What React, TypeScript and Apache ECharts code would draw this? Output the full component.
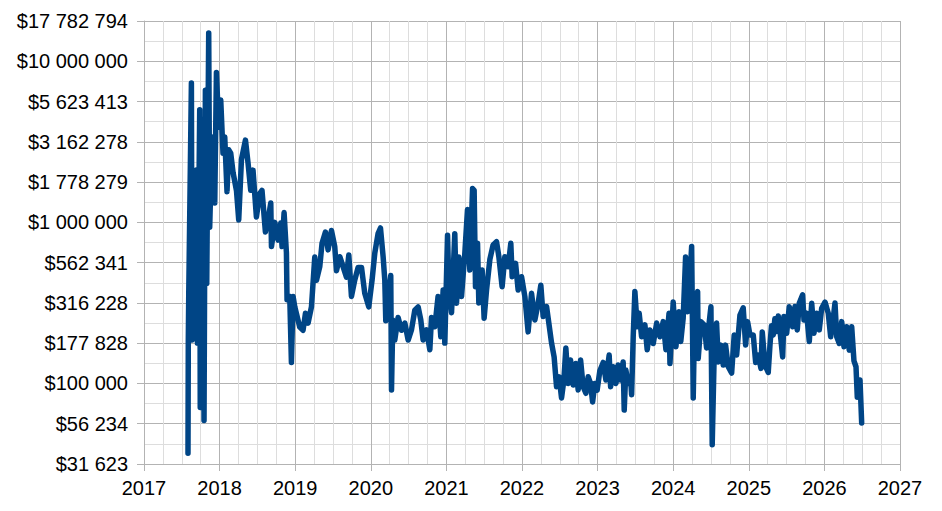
import React, { useEffect, useRef } from "react";
import * as echarts from "echarts";

// Decimal year of each reading
const years: number[] = [
  2017.582, 2017.586, 2017.592, 2017.627, 2017.635, 2017.662, 2017.693, 2017.707, 2017.737, 2017.744,
  2017.764, 2017.781, 2017.794, 2017.812, 2017.83, 2017.856, 2017.869, 2017.9, 2017.936, 2017.958,
  2017.988, 2018.015, 2018.045, 2018.068, 2018.098, 2018.121, 2018.147, 2018.178, 2018.223, 2018.253,
  2018.289, 2018.342, 2018.376, 2018.412, 2018.442, 2018.487, 2018.531, 2018.561, 2018.606, 2018.641,
  2018.677, 2018.686, 2018.73, 2018.773, 2018.809, 2018.826, 2018.853, 2018.884, 2018.892, 2018.928,
  2018.95, 2018.972, 2018.994, 2019.06, 2019.104, 2019.136, 2019.17, 2019.215, 2019.259, 2019.281,
  2019.325, 2019.355, 2019.4, 2019.435, 2019.48, 2019.523, 2019.546, 2019.59, 2019.633, 2019.678,
  2019.709, 2019.744, 2019.788, 2019.832, 2019.877, 2019.92, 2019.973, 2020.017, 2020.053, 2020.096,
  2020.128, 2020.163, 2020.185, 2020.198, 2020.229, 2020.264, 2020.274, 2020.291, 2020.317, 2020.361,
  2020.406, 2020.45, 2020.494, 2020.538, 2020.582, 2020.626, 2020.661, 2020.692, 2020.737, 2020.781,
  2020.803, 2020.847, 2020.89, 2020.926, 2020.957, 2020.979, 2021.015, 2021.032, 2021.068, 2021.111,
  2021.134, 2021.164, 2021.2, 2021.244, 2021.279, 2021.31, 2021.346, 2021.367, 2021.385, 2021.412,
  2021.429, 2021.473, 2021.499, 2021.531, 2021.575, 2021.618, 2021.663, 2021.694, 2021.737, 2021.773,
  2021.817, 2021.852, 2021.87, 2021.915, 2021.949, 2021.994, 2022.038, 2022.081, 2022.126, 2022.17,
  2022.214, 2022.249, 2022.28, 2022.325, 2022.355, 2022.391, 2022.425, 2022.457, 2022.491, 2022.523,
  2022.554, 2022.58, 2022.611, 2022.642, 2022.677, 2022.713, 2022.743, 2022.775, 2022.809, 2022.845,
  2022.875, 2022.907, 2022.934, 2022.964, 2022.994, 2023.03, 2023.074, 2023.11, 2023.153, 2023.172,
  2023.206, 2023.242, 2023.272, 2023.304, 2023.338, 2023.352, 2023.374, 2023.405, 2023.436, 2023.45,
  2023.471, 2023.493, 2023.524, 2023.55, 2023.582, 2023.626, 2023.656, 2023.692, 2023.736, 2023.781,
  2023.825, 2023.868, 2023.904, 2023.945, 2023.957, 2024.0, 2024.036, 2024.075, 2024.1, 2024.132,
  2024.164, 2024.19, 2024.207, 2024.244, 2024.265, 2024.287, 2024.323, 2024.331, 2024.367, 2024.41,
  2024.442, 2024.463, 2024.499, 2024.516, 2024.543, 2024.574, 2024.596, 2024.631, 2024.662, 2024.693,
  2024.728, 2024.773, 2024.807, 2024.839, 2024.883, 2024.926, 2024.958, 2024.984, 2025.015, 2025.059,
  2025.091, 2025.125, 2025.161, 2025.178, 2025.214, 2025.257, 2025.28, 2025.3, 2025.323, 2025.345,
  2025.368, 2025.39, 2025.412, 2025.448, 2025.465, 2025.501, 2025.535, 2025.58, 2025.611, 2025.641,
  2025.667, 2025.712, 2025.73, 2025.765, 2025.8, 2025.832, 2025.862, 2025.898, 2025.932, 2025.964,
  2026.008, 2026.051, 2026.083, 2026.11, 2026.14, 2026.163, 2026.197, 2026.229, 2026.259, 2026.295,
  2026.329, 2026.361, 2026.391, 2026.418, 2026.435, 2026.471, 2026.493,
];

// Price in dollars at each reading
const prices: number[] = [
  36900, 186000, 363000, 7330000, 186000, 646000, 2110000, 178000, 5010000, 70800,
  72400, 4370000, 58900, 6610000, 417000, 14960000, 933000, 3390000, 1320000, 8510000,
  3890000, 5750000, 2690000, 3390000, 1550000, 2820000, 2690000, 2040000, 1580000, 1035000,
  2450000, 3240000, 2340000, 1580000, 2110000, 1080000, 1510000, 1580000, 871000, 1035000,
  1320000, 708000, 1000000, 776000, 989000, 708000, 1150000, 646000, 331000, 347000,
  135000, 347000, 300000, 224000, 214000, 273000, 237000, 299000, 610000, 437000,
  531000, 741000, 871000, 675000, 891000, 708000, 501000, 612000, 531000, 457000,
  627000, 347000, 439000, 525000, 525000, 363000, 299000, 439000, 646000, 851000,
  923000, 612000, 439000, 245000, 315000, 468000, 91000, 248000, 186000, 257000,
  214000, 237000, 186000, 215000, 285000, 299000, 248000, 186000, 215000, 162000,
  257000, 225000, 347000, 195000, 380000, 178000, 832000, 419000, 275000, 851000,
  315000, 610000, 346000, 646000, 1200000, 506000, 1620000, 1580000, 398000, 741000,
  316000, 506000, 254000, 380000, 589000, 724000, 759000, 612000, 398000, 612000,
  531000, 741000, 460000, 557000, 380000, 460000, 346000, 209000, 363000, 248000,
  315000, 407000, 260000, 300000, 237000, 178000, 146000, 95500, 110000, 81300,
  105000, 166000, 100000, 140000, 97700, 133000, 91200, 140000, 95500, 86900,
  110000, 100000, 76700, 100000, 91000, 120000, 135000, 105000, 150000, 95500,
  127000, 100000, 130000, 105000, 136000, 68400, 121000, 100000, 110000, 85100,
  195000, 372000, 225000, 273000, 195000, 231000, 162000, 215000, 177000, 237000,
  195000, 242000, 162000, 273000, 133000, 320000, 169000, 279000, 182000, 254000,
  610000, 279000, 338000, 708000, 81300, 322000, 372000, 143000, 242000, 231000,
  166000, 210000, 299000, 41700, 157000, 237000, 136000, 173000, 130000, 173000,
  127000, 116000, 200000, 150000, 266000, 295000, 173000, 242000, 200000, 200000,
  135000, 150000, 124000, 209000, 130000, 117000, 173000, 228000, 200000, 252000,
  210000, 262000, 214000, 146000, 260000, 205000, 299000, 225000, 300000, 215000,
  315000, 355000, 248000, 273000, 182000, 315000, 205000, 273000, 215000, 293000,
  320000, 273000, 195000, 237000, 316000, 195000, 177000, 242000, 169000, 225000,
  161000, 225000, 138000, 127000, 82200, 105000, 56900,
];

// Axis ranges (log10 of dollars for the y axis)
const yearMin = 2017;
const yearMax = 2027;
const logMin = 4.5;
const logMax = 7.25;
const logStep = 0.25;

function formatDollars(logValue: number): string {
  const n = Math.round(Math.pow(10, logValue));
  const s = String(n).replace(/\B(?=(\d{3})+(?!\d))/g, " ");
  return "$" + s;
}

export default function App() {
  const ref = useRef<HTMLDivElement>(null);

  useEffect(() => {
    if (!ref.current) return;
    const chart = echarts.init(ref.current, undefined, { renderer: "svg" });
    const data = years.map((y, i) => [y, Math.log10(prices[i])]);
    const font = "'Liberation Sans', Arial, sans-serif";
    chart.setOption({
      animation: false,
      backgroundColor: "#ffffff",
      grid: { left: 144, right: 42, top: 21, bottom: 47, containLabel: false },
      xAxis: {
        type: "value",
        min: yearMin,
        max: yearMax,
        interval: 1,
        axisLine: { show: true, lineStyle: { color: "#b3b3b3", width: 1 } },
        axisTick: { show: true, length: 7, lineStyle: { color: "#b3b3b3" } },
        axisLabel: {
          color: "#000000",
          fontSize: 20,
          fontFamily: font,
          margin: 14,
          formatter: (v: number) => String(Math.round(v)),
        },
        splitLine: { show: true, lineStyle: { color: "#b3b3b3", width: 1 } },
        minorTick: { show: false, splitNumber: 4 },
        minorSplitLine: { show: true, lineStyle: { color: "#dddddd", width: 1 } },
      },
      yAxis: {
        type: "value",
        min: logMin,
        max: logMax,
        interval: logStep,
        axisLine: { show: true, lineStyle: { color: "#b3b3b3", width: 1 } },
        axisTick: { show: true, length: 7, lineStyle: { color: "#b3b3b3" } },
        axisLabel: {
          color: "#000000",
          fontSize: 20,
          fontFamily: font,
          margin: 16,
          formatter: (v: number) => formatDollars(v),
        },
        splitLine: { show: true, lineStyle: { color: "#b3b3b3", width: 1 } },
        minorTick: { show: false, splitNumber: 2 },
        minorSplitLine: { show: true, lineStyle: { color: "#dddddd", width: 1 } },
      },
      series: [
        {
          type: "line",
          data,
          showSymbol: false,
          symbol: "none",
          lineStyle: { color: "#004586", width: 5.5, join: "round", cap: "round" },
          itemStyle: { color: "#004586" },
        },
      ],
    });
    return () => chart.dispose();
  }, []);

  return (
    <div
      ref={ref}
      style={{ position: "fixed", left: 0, top: 0, width: 942, height: 511, background: "#fff" }}
    />
  );
}
